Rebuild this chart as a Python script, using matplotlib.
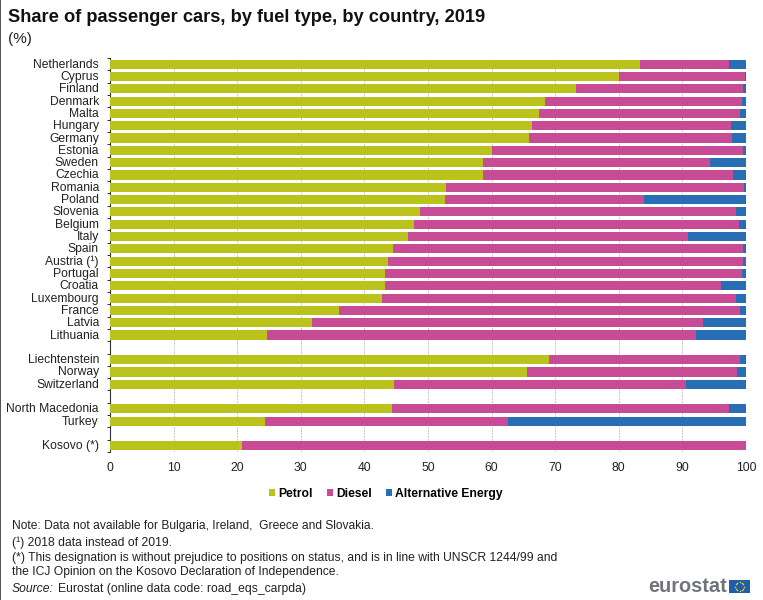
"""
Share of passenger cars by fuel type, by country, 2019
Stacked horizontal bars in the Eurostat house style.
"""

import matplotlib

matplotlib.use("Agg")

import matplotlib.pyplot as plt
import numpy as np
from matplotlib.lines import Line2D
from matplotlib.patches import Rectangle
from matplotlib.transforms import ScaledTranslation

plt.rcParams["font.family"] = ["Liberation Sans", "DejaVu Sans"]

# empty strings are the gaps between the country groups
countries = [
    "Netherlands", "Cyprus", "Finland", "Denmark", "Malta", "Hungary", "Germany",
    "Estonia", "Sweden", "Czechia", "Romania", "Poland", "Slovenia", "Belgium",
    "Italy", "Spain", "Austria (¹)", "Portugal", "Croatia", "Luxembourg", "France",
    "Latvia", "Lithuania", "", "Liechtenstein", "Norway", "Switzerland", "",
    "North Macedonia", "Turkey", "", "Kosovo (*)",
]
petrol = [
    83.3, 80.0, 73.3, 68.4, 67.5, 66.3, 65.9, 60.1, 58.7, 58.6, 52.9, 52.6, 48.7,
    47.8, 46.8, 44.5, 43.7, 43.3, 43.2, 42.8, 36.0, 31.8, 24.7, 0, 69.0, 65.5, 44.7,
    0, 44.4, 24.3, 0, 20.7,
]
diesel = [
    14.1, 19.8, 26.2, 30.9, 31.6, 31.4, 31.9, 39.4, 35.6, 39.4, 46.8, 31.3, 49.7,
    51.1, 44.1, 55.0, 55.8, 56.0, 52.9, 55.7, 63.0, 61.5, 67.5, 0, 30.0, 33.1, 45.9,
    0, 53.0, 38.2, 0, 79.3,
]
alternative = [
    2.6, 0.2, 0.5, 0.7, 0.9, 2.3, 2.2, 0.5, 5.7, 2.0, 0.3, 16.1, 1.6,
    1.1, 9.1, 0.5, 0.5, 0.7, 3.9, 1.5, 1.0, 6.7, 7.8, 0, 1.0, 1.4, 9.4,
    0, 2.6, 37.5, 0, 0.0,
]
series_names = ["Petrol", "Diesel", "Alternative Energy"]
series_colors = ["#b9c31b", "#c84b96", "#286eb4"]
x_ticks = list(range(0, 101, 10))

W, H = 763, 600


def fx(px):
    return px / W


def fy(px):
    return 1 - px / H


fig = plt.figure(figsize=(W / 100, H / 100), dpi=100)
ax = fig.add_axes([fx(110), fy(452), 636 / W, 394 / H])

y = np.arange(len(countries))
left = np.zeros(len(countries))
for name, values, color in zip(series_names, [petrol, diesel, alternative], series_colors):
    ax.barh(y, values, left=left, height=0.74, color=color, label=name, zorder=3)
    left = left + np.array(values)

ax.set_xlim(0, 100)
ax.set_ylim(len(countries) - 0.5, -0.5)
ax.set_xticks(x_ticks)
ax.set_yticks(y)
ax.set_yticklabels(countries, fontsize=8.75, color="#222222")
ax.set_yticks(np.arange(-0.5, len(countries)), minor=True)
ax.tick_params(axis="y", which="major", length=0, pad=8)
ax.tick_params(axis="y", which="minor", length=2.5, width=0.7, color="#333333")
ax.tick_params(axis="x", length=0, labelsize=8.75, pad=7.5, labelcolor="#222222")
ax.grid(axis="x", color="#c8c8c8", linewidth=0.7, linestyle=(0, (2, 1)), zorder=0)
for side in ["top", "right", "bottom"]:
    ax.spines[side].set_visible(False)
ax.spines["left"].set_color("#333333")
ax.spines["left"].set_linewidth(0.8)

# labels sit a pixel above the bar centres in the original
nudge = ScaledTranslation(0, 1.0 / 100, fig.dpi_scale_trans)
for label in ax.get_yticklabels():
    label.set_transform(label.get_transform() + nudge)

fig.text(fx(8), fy(17), "Share of passenger cars, by fuel type, by country, 2019",
         fontsize=13.15, fontweight="bold", color="#111111", va="center")
fig.text(fx(8), fy(38.5), "(%)", fontsize=11, color="#222222", va="center")

fig.legend(loc="center", bbox_to_anchor=(fx(386), fy(494)), ncol=3, frameon=False,
           prop={"size": 8.75, "weight": "bold"}, handlelength=0.5, handleheight=0.5,
           handletextpad=0.25, columnspacing=1.15, borderpad=0)

note_lines = [
    (526.5, 8.65, "Note: Data not available for Bulgaria, Ireland,  Greece and Slovakia."),
    (542.7, 8.75, "(¹) 2018 data instead of 2019."),
    (557.7, 8.75, "(*) This designation is without prejudice to positions on status, and is in line with UNSCR 1244/99 and"),
    (571.7, 8.75, "the ICJ Opinion on the Kosovo Declaration of Independence."),
]
for y_px, size, line in note_lines:
    fig.text(fx(12), fy(y_px), line, fontsize=size, color="#222222", va="center")
fig.text(fx(12), fy(589.3), "Source:", fontsize=8.75, style="italic", color="#222222", va="center")
fig.text(fx(58.5), fy(589.3), "Eurostat (online data code: road_eqs_carpda)", fontsize=8.75,
         color="#222222", va="center")

# eurostat logo with the EU flag
fig.text(fx(648), fy(587), "eurostat", fontsize=14.4, fontweight="bold", color="#70757b", va="center")
fig.add_artist(Rectangle((fx(729), fy(593)), 21 / W, 13 / H, transform=fig.transFigure,
                         facecolor="#1f5fa8", edgecolor="none"))
angles = np.deg2rad(np.arange(0, 360, 30))
fig.add_artist(Line2D(fx(739.5) + 4.5 * np.cos(angles) / W, fy(586.5) + 4.5 * np.sin(angles) / H,
                      transform=fig.transFigure, linestyle="none", marker="o", markersize=1.1,
                      markerfacecolor="#e6d53a", markeredgecolor="none"))
fig.add_artist(Rectangle((0, 0), 1.5 / W, 1, transform=fig.transFigure,
                         facecolor="#555555", edgecolor="none"))

fig.savefig("out.png", dpi=100)
